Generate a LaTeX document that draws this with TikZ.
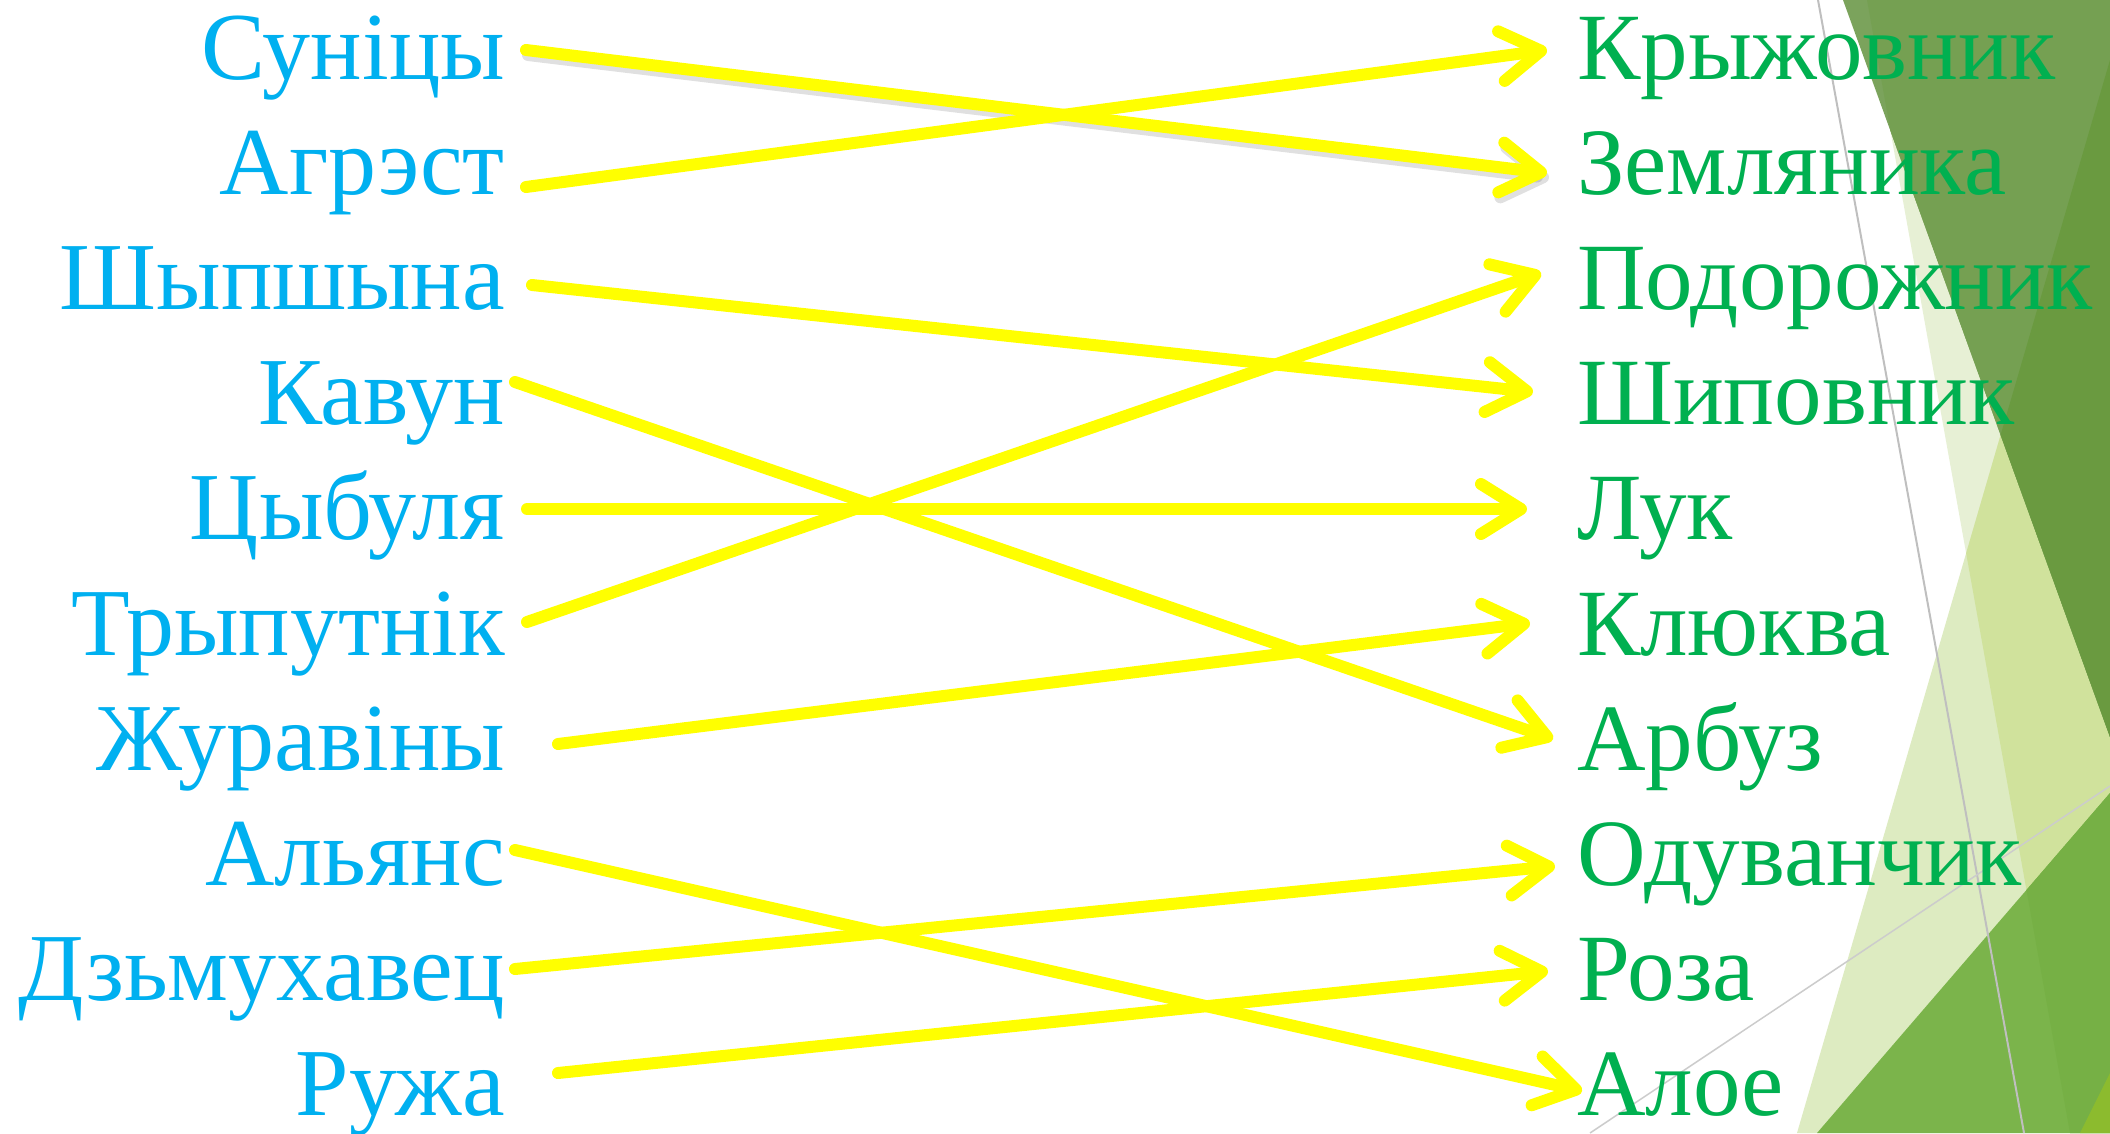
\documentclass[tikz,border=0pt]{standalone}
\usepackage{fontspec}
\setmainfont{Liberation Serif}
\usetikzlibrary{arrows.meta}
\definecolor{lblue}{HTML}{00B0F0}
\definecolor{rgreen}{HTML}{00B050}
\definecolor{ayellow}{HTML}{FFFF00}
\definecolor{paleA}{HTML}{E7F0D5}
\definecolor{paleB}{HTML}{DDEBC1}
\definecolor{paleC}{HTML}{D0E29C}
\definecolor{oliveA}{HTML}{7BA35C}
\definecolor{oliveB}{HTML}{75A052}
\definecolor{oliveC}{HTML}{6A9A40}
\definecolor{greenA}{HTML}{7BB44B}
\definecolor{greenB}{HTML}{76B045}
\definecolor{greenC}{HTML}{8CBB2E}
\begin{document}
\begin{tikzpicture}[x=1pt,y=-1pt,
  lefttext/.style={anchor=base east,inner sep=0pt,text=lblue,font=\fontsize{96}{110}\selectfont},
  righttext/.style={anchor=base west,inner sep=0pt,text=rgreen,font=\fontsize{95}{110}\selectfont},
  conn/.style={draw=ayellow,line width=12pt,line cap=round,-{Straight Barb[length=40pt,width=50pt,round]}},
  shadowconn/.style={draw=black,opacity=0.12,line width=12pt,line cap=round,-{Straight Barb[length=40pt,width=50pt,round]}},
  thinline/.style={draw=black!25,line width=2pt}]
\useasboundingbox (0,0) rectangle (2110,1133);
\fill[white] (0,0) rectangle (2110,1133);
% background facets
\fill[paleA] (1867,0) -- (2110,0) -- (2110,1133) -- (2070,1133) -- cycle;
\fill[paleB] (2110,60) -- (1797,1133) -- (2110,1133) -- cycle;
\begin{scope}
  \clip (2110,60) -- (1797,1133) -- (2110,1133) -- cycle;
  \fill[paleC] (1867,0) -- (2110,0) -- (2110,1133) -- (2070,1133) -- cycle;
\end{scope}
\fill[oliveA] (1843,0) -- (2110,0) -- (2110,737) -- cycle;
\begin{scope}
  \clip (1843,0) -- (2110,0) -- (2110,737) -- cycle;
  \fill[oliveB] (1867,0) -- (2110,0) -- (2110,1133) -- (2070,1133) -- cycle;
  \fill[oliveC] (2110,60) -- (1797,1133) -- (2110,1133) -- cycle;
\end{scope}
\fill[greenA] (2110,793) -- (1817,1133) -- (2110,1133) -- cycle;
\begin{scope}
  \clip (2110,793) -- (1817,1133) -- (2110,1133) -- cycle;
  \fill[greenB] (1867,0) -- (2110,0) -- (2110,1133) -- (2070,1133) -- cycle;
\end{scope}
\fill[greenC] (2080,1133) -- (2110,1073) -- (2110,1133) -- cycle;
\draw[thinline] (1818,0) -- (2024,1133);
\draw[draw=black!20,line width=1.5pt] (1590,1133) -- (2110,786);
% labels
\foreach \t [count=\i] in {Суніцы,Агрэст,Шыпшына,Кавун,Цыбуля,Трыпутнік,Журавіны,Альянс,Дзьмухавец,Ружа}
  \node[lefttext] (L\i) at (505,{79+115.2*(\i-1)}) {\t};
\foreach \t [count=\i] in {Крыжовник,Земляника,Подорожник,Шиповник,Лук,Клюква,Арбуз,Одуванчик,Роза,Алое}
  \node[righttext] (R\i) at (1577,{79+115.2*(\i-1)}) {\t};
% connector end points
\coordinate (s1) at (526,50);   \coordinate (e1) at (1547,173);
\coordinate (s2) at (526,187);  \coordinate (e2) at (1547,50);
\coordinate (s3) at (532,285);  \coordinate (e3) at (1533,392);
\coordinate (s4) at (515,382);  \coordinate (e4) at (1553,739);
\coordinate (s5) at (527,509);  \coordinate (e5) at (1527,509);
\coordinate (s6) at (527,622);  \coordinate (e6) at (1541,273);
\coordinate (s7) at (558,744);  \coordinate (e7) at (1530,623);
\coordinate (s8) at (515,850);  \coordinate (e8) at (1582,1091);
\coordinate (s9) at (515,969);  \coordinate (e9) at (1555,866);
\coordinate (s10) at (558,1073); \coordinate (e10) at (1548,971);
% shadow of first arrow
\draw[shadowconn] ([shift={(2,5)}]s1) -- ([shift={(2,5)}]e1);
\foreach \k in {1,...,10} \draw[conn] (s\k) -- (e\k);
\end{tikzpicture}
\end{document}
